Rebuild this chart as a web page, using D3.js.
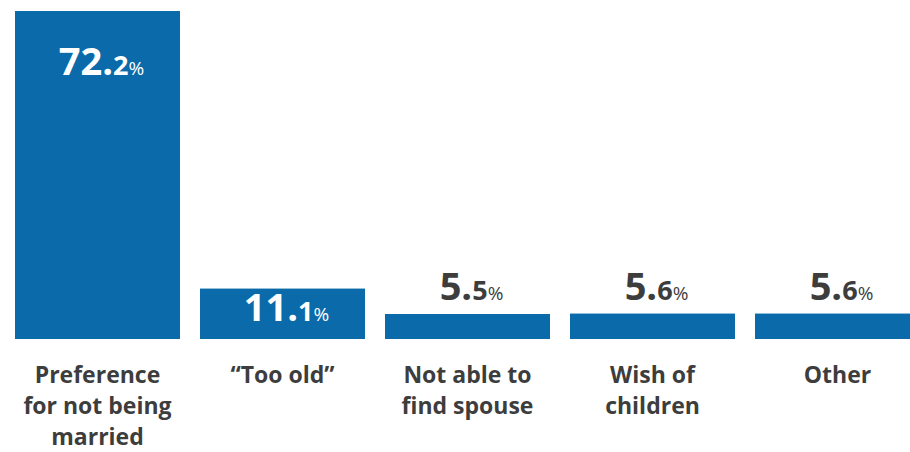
<!DOCTYPE html>
<html>
<head>
<meta charset="utf-8">
<script src="https://cdn.jsdelivr.net/npm/d3@7"></script>
<style>
  html, body { margin: 0; padding: 0; background: #ffffff; }
  svg { display: block; }
</style>
</head>
<body>
<svg id="chart" width="910" height="452"></svg>
<script>
const categories = [
  ["Preference", "for not being", "married"],
  ["\u201CToo old\u201D"],
  ["Not able to", "find spouse"],
  ["Wish of", "children"],
  ["Other"]
];
const values = [72.2, 11.1, 5.5, 5.6, 5.6];
const valueLabels = ["72.2", "11.1", "5.5", "5.6", "5.6"];

const W = 910, H = 452;
const svg = d3.select("#chart");
const barColor = "#0b6aa9";
const textColor = "#3d3d3d";

const x = d3.scaleBand()
  .domain(d3.range(values.length))
  .range([15, 920])
  .paddingInner(20 / 185)
  .paddingOuter(0);

const y = d3.scaleLinear()
  .domain([0, 72.2])
  .range([339, 11]);

svg.selectAll("rect.bar")
  .data(values)
  .join("rect")
  .attr("class", "bar")
  .attr("x", (d, i) => x(i))
  .attr("y", d => y(d))
  .attr("width", x.bandwidth())
  .attr("height", d => y(0) - y(d))
  .attr("fill", barColor);

// value labels
const vl = svg.selectAll("text.val")
  .data(values)
  .join("text")
  .attr("class", "val")
  .attr("text-anchor", "middle")
  .attr("x", (d, i) => x(i) + x.bandwidth() / 2 + 4)
  .attr("y", d => d > 50 ? y(d) + 64 : (d > 10 ? y(d) + 32 : y(d) - 14))
  .attr("fill", d => d > 10 ? "#ffffff" : textColor)
  .style("font-family", "'Open Sans', sans-serif");

vl.each(function(d, i) {
  const parts = valueLabels[i].split(".");
  const t = d3.select(this);
  t.append("tspan").text(parts[0] + ".")
    .style("font-size", "38px").style("font-weight", "700");
  t.append("tspan").text(parts[1])
    .style("font-size", "27px").style("font-weight", "700");
  t.append("tspan").text("%")
    .style("font-size", "19px").style("font-weight", "400");
});

// category labels
const cl = svg.selectAll("text.cat")
  .data(categories)
  .join("text")
  .attr("class", "cat")
  .attr("text-anchor", "middle")
  .attr("x", (d, i) => x(i) + x.bandwidth() / 2)
  .attr("y", 383)
  .attr("fill", textColor)
  .style("font-family", "'Open Sans', sans-serif")
  .style("font-size", "23px")
  .style("font-weight", "700");

cl.each(function(lines, i) {
  const t = d3.select(this);
  lines.forEach((ln, j) => {
    t.append("tspan")
      .attr("x", x(i) + x.bandwidth() / 2)
      .attr("dy", j === 0 ? 0 : 31)
      .text(ln);
  });
});
</script>
</body>
</html>
